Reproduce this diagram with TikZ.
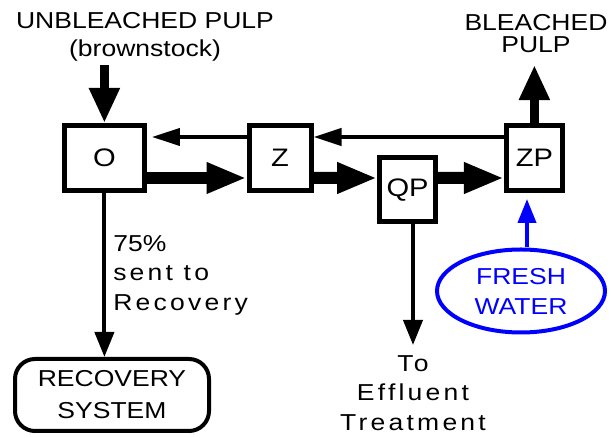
\documentclass[tikz,border=0pt]{standalone}
\usepackage{fontspec}
\setmainfont{Liberation Sans}[FakeStretch=1.15]
\newfontfamily\spacedfont{Liberation Sans}[FakeStretch=1.15, LetterSpace=14]
\usetikzlibrary{arrows.meta, positioning, shapes.geometric}
\tikzset{
    stage/.style={rectangle, draw=black, line width=1.25mm, fill=white,
                  minimum width=1.4cm, minimum height=1.6cm, inner sep=0pt,
                  font=\fontsize{18}{21}\selectfont},
    sink/.style={rectangle, rounded corners=5mm, draw=black, line width=1mm,
                 minimum width=4.85cm, minimum height=1.8cm, inner sep=0pt,
                 align=center, font=\fontsize{16.4}{21}\selectfont},
    water/.style={ellipse, draw=blue, line width=1mm, text=blue,
                  minimum width=4.2cm, minimum height=2.075cm, inner sep=0pt,
                  align=center, font=\fontsize{16.4}{21.3}\selectfont},
    caption/.style={inner sep=0pt, align=center, font=\fontsize{16.4}{20}\selectfont},
    note/.style={inner sep=0pt, font=\fontsize{16.4}{21}\spacedfont},
    fat/.style={-{Triangle[length=10mm, width=7.2mm]}, line width=3mm},
    stem/.style={-{Triangle[length=8.8mm, width=7.2mm]}, line width=2.3mm},
    back/.style={-{Triangle[length=7mm, width=4.25mm]}, line width=1mm},
    drop/.style={-{Triangle[length=6.25mm, width=4.75mm]}, line width=1mm},
    supply/.style={-{Triangle[length=6mm, width=4.5mm]}, line width=1mm, blue}
}
\begin{document}
\begin{tikzpicture}[x=1cm, y=1cm]
    \useasboundingbox (0,0) rectangle (15.275,10.95);
    % bleaching stages
    \node[stage, minimum width=2cm, minimum height=1.625cm] (o) at (2.61,7.0) {O};
    \node[stage, minimum width=1.55cm, minimum height=1.625cm] (z) at (7.0,7.0) {Z};
    \node[stage] (qp) at (10.19,6.2) {QP};
    \node[stage, minimum height=1.625cm] (zp) at (13.36,7.0) {ZP};
    % texts and end points
    \node[caption, anchor=north] (unbl) at (3.625,10.65) {UNBLEACHED PULP\\(brownstock)};
    \node[caption, anchor=north] (bl) at (13.4,10.6) {BLEACHED\\[-4pt]PULP};
    \node[sink] (rec) at (2.8,1.075) {RECOVERY\\[1.7pt]SYSTEM};
    \node[water] (fresh) at (13.025,3.675) {FRESH\\WATER};
    \node[note, anchor=north west, align=left] (pct) at (2.825,5.075) {{\normalfont 75\%}\\sent to\\Recovery};
    \node[note, anchor=north, align=center] (eff) at (10.325,2.075) {To\\Effluent\\Treatment};
    \coordinate (feed) at (2.61,9.325);
    \coordinate (out) at (13.36,9.325);
    \coordinate (fw) at ([xshift=1.5mm]fresh.north);
    % pulp line
    \draw[stem] (feed) -- (o.north);
    \draw[stem] (zp.north) -- (out);
    \draw[fat] ([yshift=-5mm]o.east) -- ([yshift=-5mm]z.west);
    \draw[fat] ([yshift=-5mm]z.east) -- ([yshift=3mm]qp.west);
    \draw[fat] ([yshift=3mm]qp.east) -- ([yshift=-5mm]zp.west);
    % filtrate back to front
    \draw[back] ([yshift=5.25mm]zp.west) -- ([yshift=5.25mm]z.east);
    \draw[back, shorten >=1.25mm] ([yshift=5.25mm]z.west) -- ([yshift=5.25mm]o.east);
    \draw[drop] (o.south) -- (o.south |- rec.north);
    \draw[drop, shorten >=2.5mm] (eff.north |- qp.south) -- (eff.north);
    \draw[supply, shorten >=1.5mm] (fw) -- (fw |- zp.south);
\end{tikzpicture}
\end{document}
